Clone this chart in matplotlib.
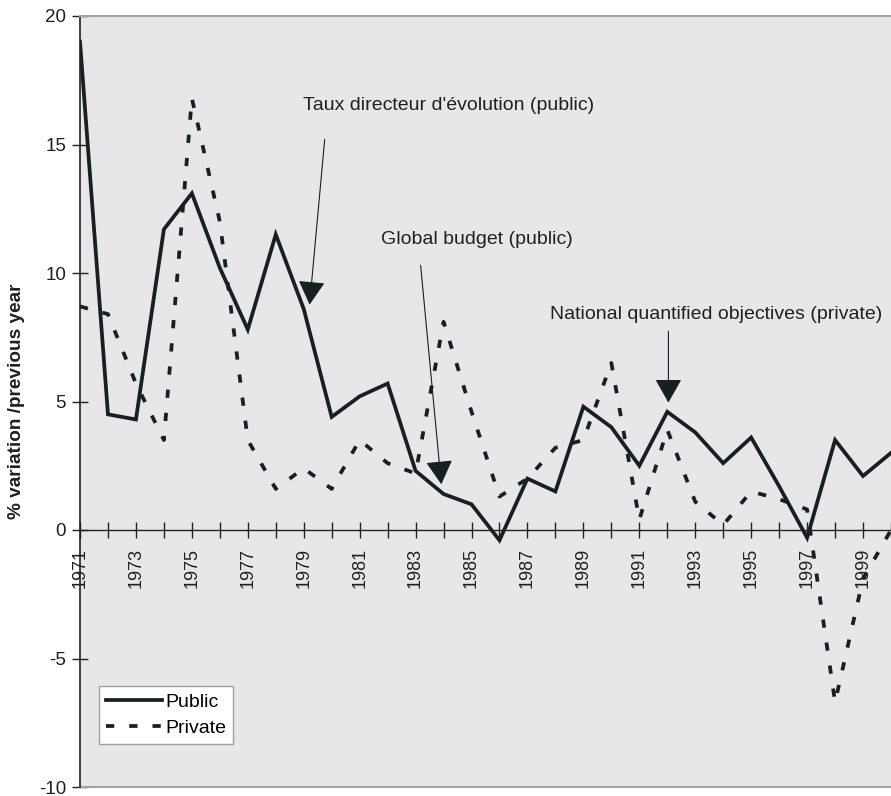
import numpy as np
import matplotlib.pyplot as plt

plt.rcParams['font.family'] = ['Liberation Sans', 'DejaVu Sans']

years = list(range(1971, 2001))
public = [19.0, 4.5, 4.3, 11.7, 13.1, 10.2, 7.8, 11.5, 8.6, 4.4,
          5.2, 5.7, 2.3, 1.4, 1.0, -0.4, 2.0, 1.5, 4.8, 4.0,
          2.5, 4.6, 3.8, 2.6, 3.6, 1.7, -0.3, 3.5, 2.1, 3.0]
private = [8.7, 8.4, 5.7, 3.5, 16.8, 12.0, 3.5, 1.6, 2.4, 1.6,
           3.5, 2.6, 2.2, 8.1, 4.6, 1.3, 2.0, 3.2, 3.5, 6.5,
           0.4, 3.9, 1.1, 0.2, 1.5, 1.2, 0.8, -6.7, -1.9, 0.0]
tick_labels = [str(y) if y % 2 == 1 else "" for y in years]

line_col = "#172020"

fig = plt.figure(figsize=(8.91, 7.96), dpi=100)
ax = fig.add_axes([80 / 891, 9 / 796, 811 / 891, 771 / 796])
ax.set_facecolor("#e7e7e9")

ax.plot(years, public, color=line_col, lw=2.7, solid_joinstyle="miter", label="Public")
ax.plot(years, private, color=line_col, lw=2.7, dashes=(2.2, 4.0), label="Private")

ax.spines["bottom"].set_position(("data", 0))
ax.spines["bottom"].set_color("#202020")
ax.spines["bottom"].set_linewidth(1.0)
ax.spines["left"].set_color("#202020")
ax.spines["left"].set_linewidth(1.2)
ax.spines["top"].set_color("#a0a4a4")
ax.spines["top"].set_linewidth(1.5)
ax.spines["right"].set_visible(False)
ax.axhline(-10, color="#a0a4a4", lw=1.5, clip_on=False)

ax.set_xlim(1971, 2000)
ax.set_ylim(-10, 20)
ax.set_yticks([-10, -5, 0, 5, 10, 15, 20])
ax.set_yticklabels(["-10", "-5", "0", "5", "10", "15", "20"])
ax.set_xticks(years)
ax.set_xticklabels(tick_labels)

ax.tick_params(axis="x", direction="inout", length=12, width=1, pad=7,
               labelsize=13, colors="#202020", labelrotation=90)
ax.tick_params(axis="y", direction="inout", length=12, width=1, pad=4,
               labelsize=13.5, colors="#202020")

ax.set_ylabel("% variation /previous year", fontsize=13.7, fontweight="bold",
              labelpad=10, color="#202020")

# arrows with filled triangular heads, text placed separately
arrow = dict(arrowstyle="-|>,head_length=15,head_width=8.5", mutation_scale=1,
             color=line_col, lw=0.8, shrinkA=0, shrinkB=0)
ax.annotate("", xy=(1979.21, 8.77), xytext=(1979.75, 15.2), arrowprops=arrow)
ax.annotate("", xy=(1983.92, 1.78), xytext=(1983.18, 10.3), arrowprops=arrow)
ax.annotate("", xy=(1992.04, 4.96), xytext=(1992.04, 7.73), arrowprops=arrow)

ax.text(1978.96, 16.52, "Taux directeur d'évolution (public)", fontsize=14,
        color="#202020", va="center", ha="left")
ax.text(1981.75, 11.31, "Global budget (public)", fontsize=14,
        color="#202020", va="center", ha="left")
ax.text(1987.82, 8.39, "National quantified objectives (private)", fontsize=14,
        color="#202020", va="center", ha="left")

leg = ax.legend(loc="lower left", bbox_to_anchor=(0.0234, 0.0558), borderaxespad=0,
                fontsize=14, fancybox=False, framealpha=1, edgecolor="#a0a0a0",
                handlelength=2.9, handletextpad=0.15, borderpad=0.35, labelspacing=0.45)
leg.get_frame().set_linewidth(1.0)

fig.savefig("out.png", dpi=100)
